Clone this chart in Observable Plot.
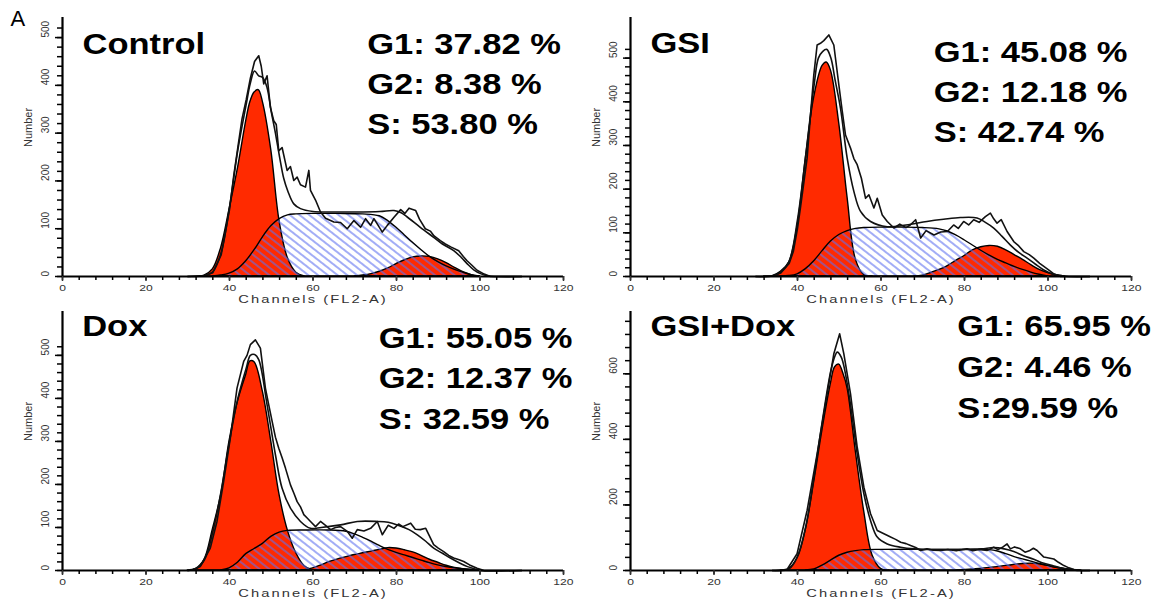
<!DOCTYPE html>
<html><head><meta charset="utf-8">
<script src="https://cdn.jsdelivr.net/npm/d3@7"></script>
<script src="https://cdn.jsdelivr.net/npm/@observablehq/plot@0.6"></script>
<style>
body{margin:0;background:#fff;}
#chart{position:relative;width:1162px;height:605px;overflow:hidden;background:#fff;}
#chart .panel{position:absolute;}
</style></head><body>
<svg width="0" height="0" style="position:absolute">
<defs>
<pattern id="hatch" patternUnits="userSpaceOnUse" width="6" height="6" patternTransform="rotate(-52)">
<line x1="3" y1="-1" x2="3" y2="7" stroke="#5d70f0" stroke-width="1.15"/>
</pattern>
</defs></svg>
<div id="chart"></div>
<script>
// ---------- tick labels ----------
const xMajorTicks = [0, 20, 40, 60, 80, 100, 120];
const xMinorTicks = [0,4,8,12,16,20,24,28,32,36,40,44,48,52,56,60,64,68,72,76,80,84,88,92,96,100,104,108,112,116,120];
const yMajorTicks = [0, 100, 200, 300, 400, 500];
const yMinorTicks = [0,20,40,60,80,100,120,140,160,180,200,220,240,260,280,300,320,340,360,380,400,420,440,460,480,500,520];
const yMajorTicksBR = [0, 200, 400, 600];
const yMinorTicksBR = [0,40,80,120,160,200,240,280,320,360,400,440,480,520,560,600,640,680,720,760];

// ---------- panel texts ----------
const panelTitles = ["Control", "GSI", "Dox", "GSI+Dox"];
const controlStats = ["G1: 37.82 %", "G2: 8.38 %", "S: 53.80 %"];
const gsiStats = ["G1: 45.08 %", "G2: 12.18 %", "S: 42.74 %"];
const doxStats = ["G1: 55.05 %", "G2: 12.37 %", "S: 32.59 %"];
const gsiDoxStats = ["G1: 65.95 %", "G2: 4.46 %", "S:29.59 %"];

// ---------- Control: [channel, number] ----------
const controlG1 = [[33,0],[34,2],[36,15],[38,60],[40,140],[42,225],[44,325],[45,365],[46,385],[47,390],[48,365],[50,265],[52,115],[54,38],[56,8],[58,0]];
const controlS = [[36,0],[38,2],[40,6],[42,15],[44,32],[46,55],[48,82],[50,105],[52,120],[54,128],[56,130],[60,131],[66,131],[72,130],[76,126],[78,116],[80,102],[82,86],[84,70],[86,55],[88,41],[90,30],[92,21],[94,14],[96,8],[98,3],[100,0]];
const controlG2 = [[70,0],[72,2],[74,5],[76,10],[78,17],[80,26],[82,34],[84,40],[86,42],[88,41],[90,36],[92,28],[94,18],[96,9],[98,3],[100,0]];
const controlFit = [[30,0],[34,2],[36,10],[38,50],[40,145],[42,265],[44,360],[45,405],[46,430],[47,420],[48,416],[49,395],[50,345],[51,300],[52,250],[53,205],[54,178],[55.4,152],[57,142],[60,136],[64,135],[70,135],[76,136],[79.4,138],[81,134],[82.5,125],[85.7,103],[88.9,82],[91,68],[93.7,54],[95.5,40],[96.9,27],[98.5,14],[100.1,6],[102,1],[104,0],[110,0]];
const controlRaw = [[30,0],[34,2],[36,8],[38,45],[40,140],[41,210],[42,270],[43,330],[44,370],[45,415],[46,450],[47,462],[47.6,440],[48.2,403],[49,420],[49.8,354],[50.6,326],[51.2,318],[51.8,263],[52.6,270],[53.8,222],[54.6,230],[55.4,201],[56.2,208],[57,192],[58.2,187],[59,222],[59.4,180],[60.6,160],[61.8,135],[63,122],[65,114],[66.6,113],[68.2,100],[69.8,117],[71.4,103],[72.6,121],[73.8,107],[74.6,121],[76.6,93],[77.8,107],[79.4,124],[81,140],[82,132],[83,143],[84.6,138],[85.5,120],[86.9,100],[88.1,95],[89,85],[90.5,75],[91.7,68],[93,62],[94.9,54],[96,42],[96.9,33],[98,24],[99.3,13],[101,5],[102.5,0],[110,0]];

// ---------- GSI ----------
const gsiG1 = [[32,0],[34,1],[36,11],[38,32],[40,115],[42,270],[44,410],[46,482],[47,490],[48,472],[50,350],[52,180],[54,38],[56,3],[58,0]];
const gsiS = [[36,0],[38,1],[40,5],[42,17],[44,35],[46,58],[48,80],[50,95],[52,104],[54,109],[56,111],[60,112],[66,112],[70,111],[74,108],[76,103],[78,94],[80,83],[82,71],[84,59],[86,48],[88,38],[90,30],[92,22],[94,15],[96,9],[98,4],[100,0]];
const gsiG2 = [[68,0],[70,2],[72,8],[74,15],[76,24],[78,36],[80,47],[82,60],[84,67],[86,70],[88,68],[90,60],[92,49],[94,38],[96,26],[98,15],[100,8],[102,3],[104,0]];
const gsiFit = [[30,0],[34,1],[36,10],[38,35],[40,130],[42,280],[44,440],[45,500],[46,515],[47,520],[48,500],[49,450],[50.3,385],[51.9,271],[53.5,195],[55.1,149],[57.5,126],[61.5,114],[66,118],[71,126],[75,131],[79,135],[83,134],[85,124],[87,111],[89,92],[91,72],[93,55],[95,42],[97,28],[99,15],[101,6],[103,2],[105,0],[110,0]];
const gsiRaw = [[30,0],[34,1],[36,8],[38,30],[39,57],[40,110],[40.7,157],[42.3,271],[43.2,380],[43.9,461],[44.7,530],[45.5,534],[46.3,540],[47.5,553],[48.7,530],[49.9,439],[50.7,380],[51.5,324],[52.7,294],[53.5,270],[54.3,256],[55.3,225],[56.3,179],[57.1,187],[58.3,157],[59.1,179],[60.3,141],[61.5,126],[63.1,111],[64.5,120],[66,112],[67,118],[68.3,130],[69.5,88],[70.8,105],[72.7,95],[74.3,102],[75.9,103],[77.4,118],[78.5,110],[79.8,126],[81,118],[82.2,130],[83.5,124],[85,137],[86.2,145],[87,132],[87.8,122],[88.8,130],[90.2,103],[91.8,80],[93,70],[94.2,57],[95.5,50],[96.6,42],[98,30],[99,23],[100.3,14],[101.4,6],[103,0],[110,0]];

// ---------- Dox ----------
const doxG1 = [[30,0],[32,4],[34,25],[36,95],[38,175],[40,300],[42,392],[44,455],[45,486],[46,484],[48,415],[50,300],[52,175],[54,92],[56,40],[58,10],[60,0]];
const doxS = [[38,0],[40,5],[42,18],[44,38],[46,50],[48,62],[50,78],[52,88],[54,92],[58,93],[64,93],[68,90],[70,84],[72,76],[74,67],[76,57],[78,48],[80,41],[82,35],[84,29],[86,23],[88,17],[90,12],[92,8],[94,5],[96,3],[98,1],[100,0]];
const doxG2 = [[56,0],[58,1],[60,5],[62,12],[64,20],[66,26],[68,31],[70,36],[72,40],[74,44],[76,48],[78,52],[80,51],[82,47],[84,42],[86,34],[88,25],[90,18],[92,11],[94,6],[96,3],[98,1],[100,0]];
const doxFit = [[30,0],[32,4],[34,25],[36,90],[38,185],[40,300],[42,400],[44,470],[45,500],[46,502],[47,490],[49,385],[51,269],[52.6,191],[54.6,145],[57,114],[59.4,98],[62,100],[66.6,106],[70.6,114],[75.4,114],[78,112],[80.2,106],[83,95],[85,83],[87,68],[88.9,52],[91,40],[92.9,29],[95,18],[97,9],[99,3],[100,0],[110,0]];
const doxRaw = [[30,0],[31,1],[33,9],[35.4,52],[37,114],[38.6,207],[40.2,308],[41.8,424],[43.4,486],[44.2,500],[45,525],[46.2,536],[47.4,517],[48.6,424],[49.4,385],[50.2,347],[51,310],[51.8,284],[52.6,262],[53.4,238],[54.6,199],[55.4,180],[56.2,160],[57,148],[57.8,130],[58.6,122],[59.4,114],[60.6,102],[61.8,114],[63,105],[64.2,95],[65.4,100],[66.6,102],[68.2,91],[69.4,75],[70.6,95],[72.2,92],[73.8,98],[75.4,114],[76.6,83],[78,105],[79.4,98],[80.5,108],[81.5,102],[83.4,110],[84.5,96],[85.7,95],[87,98],[88.9,60],[90,52],[91.3,44],[92.5,35],[93.7,29],[95,25],[96.1,21],[97.5,13],[99.3,5],[101,0],[110,0]];

// ---------- GSI+Dox ----------
const gsiDoxG1 = [[36,0],[38,5],[40,38],[42,125],[44,270],[46,430],[48,570],[49,620],[50,628],[51,600],[52,555],[54,360],[56,178],[58,45],[60,5],[62,0]];
const gsiDoxS = [[42,0],[44,3],[46,15],[48,30],[50,45],[52,54],[54,59],[56,62],[60,63],[70,63],[80,63],[86,62],[88,58],[90,50],[92,41],[94,34],[96,27],[98,20],[100,14],[102,8],[104,4],[106,0]];
const gsiDoxG2 = [[78,0],[82,3],[86,8],[90,14],[94,20],[96,21],[98,19],[100,14],[102,9],[104,5],[106,2],[108,0]];
const gsiDoxFit = [[34,0],[38,5],[40,42],[42,135],[44,290],[46,460],[48,610],[49,655],[49.5,666],[50.5,650],[52.3,539],[54.3,356],[55.9,234],[57.5,152],[59.1,102],[61.5,81],[64.7,71],[68,66],[72,64],[78,64],[84,66],[87,70],[89.5,66],[91.8,58],[94,46],[96.6,34],[99,22],[101.4,14],[103.5,7],[106,2],[108,0],[110,0]];
const gsiDoxRaw = [[34,0],[37.5,3],[39.9,51],[42.3,183],[44.7,356],[47.1,539],[48.7,661],[50.1,722],[51.1,661],[52.7,539],[54.3,376],[55.9,254],[57.5,173],[59.1,122],[60.7,112],[62.3,102],[63.5,95],[64.7,86],[66,82],[67.1,76],[68.3,70],[69.5,61],[71,66],[72.5,62],[74.3,61],[76,64],[78,60],[80.6,66],[82,60],[83.5,64],[85.4,61],[86.2,66],[87,71],[88,64],[89,70],[90.2,81],[91,66],[92,72],[93.4,66],[94.5,56],[95.5,60],[96.5,68],[97.4,61],[99,41],[100.2,38],[101.4,35],[102.5,25],[103.8,15],[105,8],[106.2,3],[108,0],[110,0]];

const RED = "#ff2a00";
const FONT = "'Liberation Sans', Arial, sans-serif";

function stretch(s, size, sx) {
  s.selectAll(`g[font-size="${size}"] text`).each(function () {
    const t = this.getAttribute("transform") || "";
    this.setAttribute("transform", (t + ` scale(${sx},1)`).trim());
  });
}

function panel(o) {
  const X = d => d[0], Y = d => d[1];
  const marks = [
    Plot.areaY(o.g1, {x: X, y1: 0, y2: Y, fill: RED, stroke: "black", strokeWidth: 1.4, curve: "catmull-rom"}),
    Plot.areaY(o.g2, {x: X, y1: 0, y2: Y, fill: RED, stroke: "black", strokeWidth: 1.4, curve: "catmull-rom"}),
    Plot.areaY(o.s, {x: X, y1: 0, y2: Y, fill: "url(#hatch)", stroke: "black", strokeWidth: 1.4, curve: "catmull-rom"}),
    Plot.line(o.fit, {x: X, y: Y, stroke: "#111", strokeWidth: 1.6, curve: "catmull-rom"}),
    Plot.line(o.raw, {x: X, y: Y, stroke: "#111", strokeWidth: 1.6, curve: "linear"}),
    Plot.ruleY([0], {stroke: "black", strokeWidth: 2.2}),
    Plot.ruleX([0], {stroke: "black", strokeWidth: 2.2}),
    Plot.axisX({ticks: xMinorTicks, tickSize: 4, tickFormat: () => "", label: null, strokeWidth: 1.5, color: "black"}),
    Plot.axisX({ticks: xMajorTicks, tickSize: 5, tickPadding: 3, fontSize: 9, label: null, strokeWidth: 1.5, color: "#333"}),
    Plot.axisY({ticks: o.yMinor, tickSize: 5, tickFormat: () => "", label: null, strokeWidth: 1.5, color: "black"}),
    Plot.axisY({ticks: o.yMajor, tickSize: 7, tickFormat: () => "", label: null, strokeWidth: 1.5, color: "black"}),
    Plot.text(o.yMajor, {y: d => d, frameAnchor: "left", text: d => String(d), rotate: -90, dx: -17, fontSize: 10, fill: "#333"}),
    Plot.text(["Number"], {frameAnchor: "left", dx: -34, rotate: -90, fontSize: 11, fill: "#333"}),
    Plot.text(["Channels (FL2-A)"], {frameAnchor: "bottom", dy: 26.5, lineAnchor: "bottom", fontSize: 10.5, fill: "#333"}),
    Plot.text([o.title], {frameAnchor: "top-left", dx: o.titleDx, dy: o.titleDy, textAnchor: "start", lineAnchor: "bottom", fontSize: 30, fontWeight: "bold", fill: "black"}),
    Plot.text([o.stats.join("\n")], {frameAnchor: "top-left", dx: o.statsDx, dy: o.statsDy, textAnchor: "start", lineAnchor: "bottom", lineHeight: o.lineHeight, fontSize: 30, fontWeight: "bold", fill: "black"})
  ];
  if (o.letter) marks.push(Plot.text([o.letter], {frameAnchor: "top-left", dx: -52, dy: 8, textAnchor: "start", lineAnchor: "bottom", fontSize: 22, fill: "black"}));
  const svg = Plot.plot({
    width: 575, height: 305,
    marginLeft: 62, marginRight: 12, marginTop: 17, marginBottom: 29,
    style: {background: "transparent", overflow: "visible", fontFamily: FONT},
    x: {domain: [0, 120], label: null},
    y: {domain: [0, o.yMax], label: null},
    marks
  });
  const s = d3.select(svg);
  stretch(s, 30, 1.15);
  s.selectAll('g[font-size="10.5"]').attr("letter-spacing", "1.5");
  stretch(s, 10.5, 1.4);
  stretch(s, 9, 1.35);
  const wrap = document.createElement("div");
  wrap.className = "panel";
  wrap.style.left = o.left + "px";
  wrap.style.top = o.top + "px";
  wrap.appendChild(svg);
  document.getElementById("chart").appendChild(wrap);
}

panel({left: 0, top: 0, yMax: 542, yMajor: yMajorTicks, yMinor: yMinorTicks,
  g1: controlG1, s: controlS, g2: controlG2, fit: controlFit, raw: controlRaw,
  title: panelTitles[0], stats: controlStats, titleDx: 20, titleDy: 36.3, statsDx: 304.7, statsDy: 116.3, lineHeight: 1.333, letter: "A"});
panel({left: 568, top: 0, yMax: 593, yMajor: yMajorTicks, yMinor: yMinorTicks,
  g1: gsiG1, s: gsiS, g2: gsiG2, fit: gsiFit, raw: gsiRaw,
  title: panelTitles[1], stats: gsiStats, titleDx: 20, titleDy: 35.5, statsDx: 303.3, statsDy: 124.7, lineHeight: 1.333});
panel({left: 0, top: 294, yMax: 602, yMajor: yMajorTicks, yMinor: yMinorTicks,
  g1: doxG1, s: doxS, g2: doxG2, fit: doxFit, raw: doxRaw,
  title: panelTitles[2], stats: doxStats, titleDx: 19.7, titleDy: 24, statsDx: 316.3, statsDy: 117, lineHeight: 1.35});
panel({left: 568, top: 294, yMax: 790, yMajor: yMajorTicksBR, yMinor: yMinorTicksBR,
  g1: gsiDoxG1, s: gsiDoxS, g2: gsiDoxG2, fit: gsiDoxFit, raw: gsiDoxRaw,
  title: panelTitles[3], stats: gsiDoxStats, titleDx: 20, titleDy: 24, statsDx: 326.7, statsDy: 106, lineHeight: 1.366});
</script>
</body></html>
